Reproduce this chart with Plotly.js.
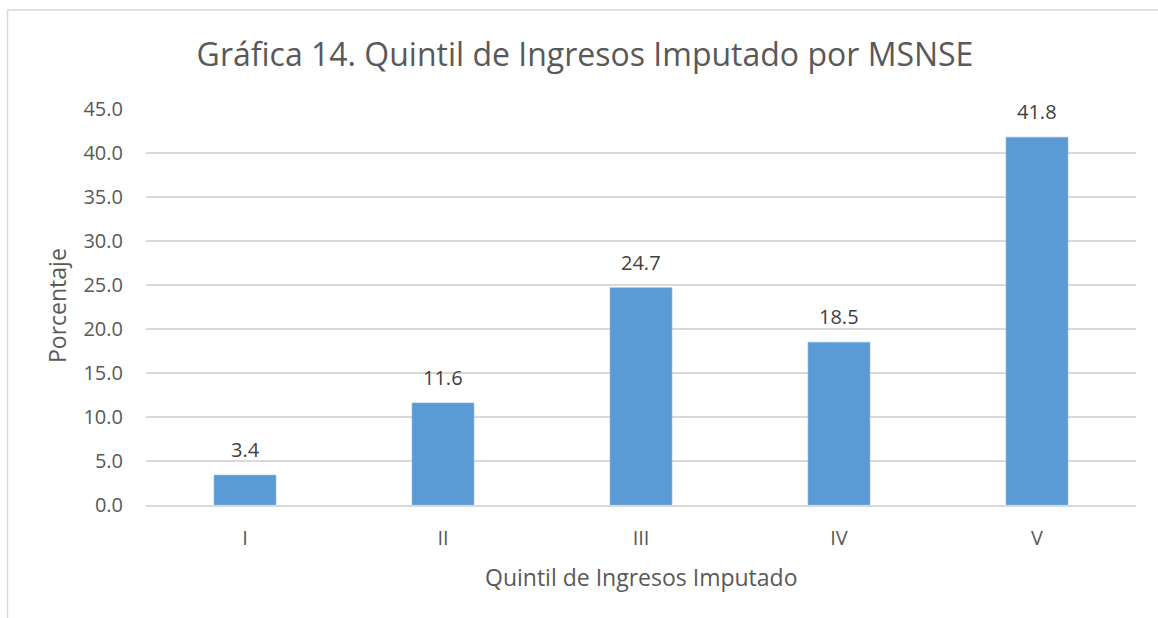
<!DOCTYPE html>
<html><head><meta charset="utf-8">
<script src="https://cdn.plot.ly/plotly-3.0.1.min.js"></script>
<style>body{margin:0;background:#fff}#c{width:1158px;height:618px}</style>
</head><body><div id="c"></div>
<script>
var categories = ["I","II","III","IV","V"];
var values = [3.4, 11.6, 24.7, 18.5, 41.8];
var yTicks = [0,5,10,15,20,25,30,35,40,45];

var font = "'Open Sans', sans-serif";
var trace = {
  type: "bar", x: categories, y: values,
  marker: {color: "#5B9BD5", line: {color: "#8DB9E4", width: 0.6}},
  hoverinfo: "x+y"
};
var W = 1158, H = 618, ml = 146, mr = 22, mt = 109, mb = 113;
var pw = W - ml - mr, ph = H - mt - mb;
function px(x){return (x - ml)/pw;}
function py(y){return (H - mb - y)/ph;}
var annotations = categories.map(function(c, i){
  return {x: c, y: values[i], xref: "x", yref: "y", text: values[i].toFixed(1),
    showarrow: false, yanchor: "bottom", yshift: 10,
    font: {family: font, size: 20, color: "#404040"}};
});
annotations.push({text: "Porcentaje", xref: "paper", yref: "paper", x: px(57), y: py(306),
  xanchor: "center", yanchor: "middle", textangle: -90, showarrow: false,
  font: {family: font, size: 23, color: "#595959"}});
annotations.push({text: "Quintil de Ingresos Imputado", xref: "paper", yref: "paper", x: 0.5, y: py(577),
  xanchor: "center", yanchor: "middle", showarrow: false,
  font: {family: font, size: 23, color: "#595959"}});
var layout = {
  width: W, height: H,
  margin: {l: ml, r: mr, t: mt, b: mb},
  paper_bgcolor: "#fff", plot_bgcolor: "#fff",
  showlegend: false,
  bargap: 0.687,
  title: {text: "Gráfica 14. Quintil de Ingresos Imputado por MSNSE",
          font: {family: font, size: 32, color: "#595959"},
          x: 585/W, xref: "container", xanchor: "center", y: 1 - 55/H, yanchor: "middle"},
  xaxis: {
    type: "category", showgrid: false, showline: true, linecolor: "#d9d9d9", linewidth: 1.5,
    ticks: "", ticklabelstandoff: 14, tickfont: {family: font, size: 20, color: "#595959"}
  },
  yaxis: {
    range: [0, 45], tickvals: yTicks, tickformat: ".1f",
    showgrid: true, gridcolor: "#d9d9d9", gridwidth: 1.5, zeroline: false, showline: false,
    ticks: "", ticklabelstandoff: 22, tickfont: {family: font, size: 20, color: "#595959"}
  },
  annotations: annotations,
  shapes: [
    {type: "line", xref: "paper", yref: "paper", x0: px(7.5), x1: px(7.5), y0: py(620), y1: py(10),
     line: {color: "#d9d9d9", width: 1.5}},
    {type: "line", xref: "paper", yref: "paper", x0: px(7.5), x1: px(1160), y0: py(10), y1: py(10),
     line: {color: "#d9d9d9", width: 1.5}}
  ]
};
Plotly.newPlot("c", [trace], layout, {displayModeBar: false, staticPlot: true});
</script></body></html>
